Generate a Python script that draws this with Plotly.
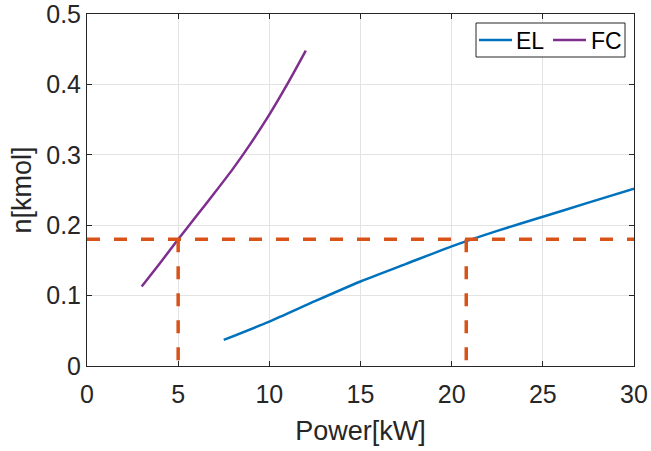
import plotly.graph_objects as go

# Data
el_x = [7.5, 10, 12.5, 15, 17.5, 20, 22.5, 25, 27.5, 30]
el_y = [0.037, 0.063, 0.092, 0.120, 0.145, 0.170, 0.192, 0.212, 0.232, 0.252]
fc_x = [3, 4, 5, 6, 7, 8, 9, 10, 11, 12]
fc_y = [0.113, 0.146, 0.180, 0.213, 0.246, 0.280, 0.317, 0.357, 0.401, 0.448]
ref_n = 0.18
ref_power = [5.0, 20.8]
x_ticks = [0, 5, 10, 15, 20, 25, 30]
y_ticks = [0, 0.1, 0.2, 0.3, 0.4, 0.5]
y_tick_labels = ["0", "0.1", "0.2", "0.3", "0.4", "0.5"]
series_names = ["EL", "FC"]
x_range = [0, 30]
y_range = [0, 0.5]

FONT = "Liberation Sans, Arial, Helvetica, sans-serif"
DARK = "#262626"
ORANGE = "#D95319"
EL_COLOR = "#0072BD"
FC_COLOR = "#7E2F8E"

# plot-area geometry (pixels)
W, H = 651, 451
L, R, T, B = 87, 17, 14, 85
PW, PH = W - L - R, H - T - B


def px_x(p):
    return (p - L) / PW


def px_y(p):
    return (H - B - p) / PH


fig = go.Figure()
fig.add_trace(go.Scatter(x=el_x, y=el_y, mode="lines", name=series_names[0],
                         line=dict(color=EL_COLOR, width=2.5, shape="spline", smoothing=0.6),
                         showlegend=False))
fig.add_trace(go.Scatter(x=fc_x, y=fc_y, mode="lines", name=series_names[1],
                         line=dict(color=FC_COLOR, width=2.5, shape="spline", smoothing=0.6),
                         showlegend=False))

dash_style = dict(color=ORANGE, width=3.5, dash="13px,14px")
fig.add_trace(go.Scatter(x=[x_range[0], x_range[1]], y=[ref_n, ref_n], mode="lines",
                         line=dash_style, showlegend=False, hoverinfo="skip"))
for pw in ref_power:
    fig.add_trace(go.Scatter(x=[pw, pw], y=[ref_n, y_range[0]], mode="lines",
                             line=dash_style, showlegend=False, hoverinfo="skip"))

axis_common = dict(showline=True, linecolor=DARK, linewidth=1, mirror="ticks",
                   ticks="inside", ticklen=5, tickcolor=DARK, tickwidth=1,
                   showgrid=True, gridcolor="#e3e3e3", gridwidth=1, zeroline=False,
                   automargin=False, ticklabeloverflow="allow",
                   tickfont=dict(family=FONT, size=25, color=DARK))

fig.update_xaxes(range=x_range, tickvals=x_ticks, ticktext=[str(v) for v in x_ticks],
                 ticklabelstandoff=6,
                 title=dict(text="Power[kW]", font=dict(family=FONT, size=27, color=DARK), standoff=14),
                 **axis_common)
fig.update_yaxes(range=y_range, tickvals=y_ticks, ticktext=y_tick_labels,
                 title=dict(text="n[kmol]", font=dict(family=FONT, size=27, color=DARK), standoff=6),
                 **axis_common)

# manual MATLAB-style legend box
shapes = [dict(type="rect", xref="paper", yref="paper",
               x0=px_x(476), x1=px_x(625), y0=px_y(57), y1=px_y(23),
               line=dict(color=DARK, width=1), fillcolor="white", layer="above")]
annotations = []
legend_items = [(series_names[0], EL_COLOR, 479, 514), (series_names[1], FC_COLOR, 553, 589)]
for name, col, lx, tx in legend_items:
    shapes.append(dict(type="line", xref="paper", yref="paper",
                       x0=px_x(lx), x1=px_x(lx + 33), y0=px_y(40), y1=px_y(40),
                       line=dict(color=col, width=2.5), layer="above"))
    annotations.append(dict(text=name, xref="paper", yref="paper", x=px_x(tx), y=px_y(40.5),
                            xanchor="left", yanchor="middle", showarrow=False,
                            font=dict(family=FONT, size=23, color="black")))

fig.update_layout(
    width=W, height=H,
    margin=dict(l=L, r=R, t=T, b=B),
    paper_bgcolor="white", plot_bgcolor="white",
    font=dict(family=FONT, color=DARK),
    shapes=shapes, annotations=annotations,
    showlegend=False,
)

fig.write_html("out.html")
